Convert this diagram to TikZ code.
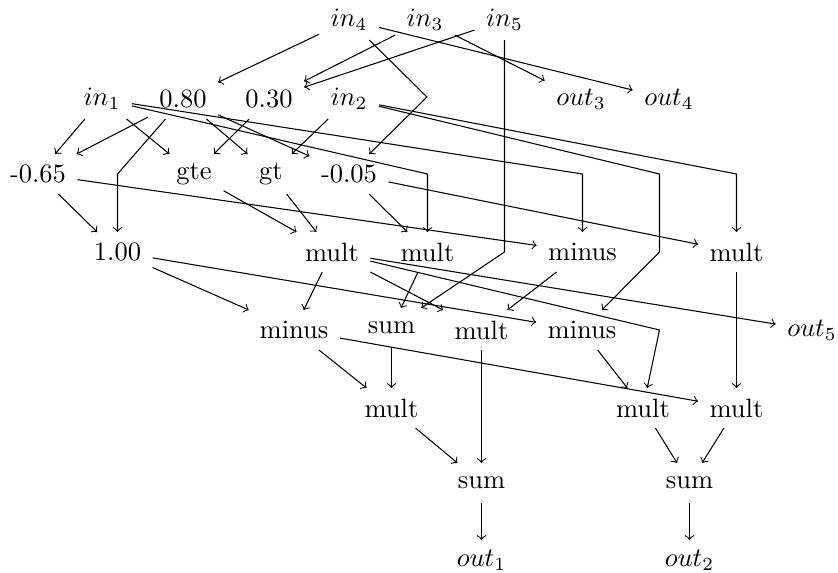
\documentclass[tikz,border=0pt]{standalone}
\begin{document}
\begin{tikzpicture}
  [x=0.3774pt,y=-0.3774pt,>=to,every node/.style={inner xsep=4.15pt,inner ysep=0pt,minimum width=21.9pt,minimum height=14.7pt}]
  \useasboundingbox (0,0) rectangle (838,573);
  \node (i4) at (349,20) {$in_4$};
  \node (i3) at (425,20) {$in_3$};
  \node (i5) at (504.5,20) {$in_5$};

  \node (i1) at (102,99) {$in_1$};
  \node (k080) at (183,99) {0.80};
  \node (k030) at (269,99) {0.30};
  \node (i2) at (349,99) {$in_2$};
  \node (o3) at (581,99) {$out_3$};
  \node (o4) at (669,99) {$out_4$};

  \node (k065) at (38,174) {-0.65};
  \node (gte) at (194,174) {gte};
  \node (gt) at (271,174) {gt};
  \node (k005) at (349,174) {-0.05};

  \node (k100) at (117.5,252) {1.00};
  \node (ma) at (332,252) {mult};
  \node (mb) at (427.5,252) {mult};
  \node (mn1) at (582.5,252) {minus};
  \node (mc) at (736.5,252) {mult};

  \node (mn2) at (294,330) {minus};
  \node (s1) at (391.5,328) {sum};
  \node (mf) at (481.5,330) {mult};
  \node (mn3) at (582,330) {minus};
  \node (o5) at (812,330) {$out_5$};

  \node (mh) at (391.5,408) {mult};
  \node (mi) at (643,408) {mult};
  \node (mj) at (736.5,408) {mult};

  \node (s2) at (481.5,483) {sum};
  \node (s3) at (689.5,483) {sum};

  \node (o1) at (481.5,560) {$out_1$};
  \node (o2) at (689.5,560) {$out_2$};

  \foreach \from/\to in {i4/k080,i4/o4,i3/k030,i3/o3,i5/k030,
    i1/k065,i1/gte,k080/k065,k080/gt,k080/k005,k030/gte,i2/gt,
    k065/k100,k065/mn1,k005/mb,k005/mc,gte/ma,gt/ma,
    k100/mn2,k100/mn3,ma/mn2,ma/mf,ma/o5,mb/s1,mn1/mf,mc/mj,
    mn2/mh,mn2/mj,s1/mh,mf/s2,mn3/mi,
    mh/s2,mi/s3,mj/s3,s2/o1,s3/o2}
    \draw[->] (\from) -- (\to);

  % edges with a bend
  \foreach \from/\bx/\by/\to in {i4/427/97/k005,i1/427.5/174/mb,i1/582.5/174/mn1,
    i2/736.5/174/mc,k080/117.5/174/k100,i5/504.5/252/s1,ma/659.5/330/mi}
    \draw[->] (\from) -- (\bx,\by) -- (\to);
  \draw[->] (i2) -- (659.5,174) -- (659.5,252) -- (mn3);

\end{tikzpicture}
\end{document}
